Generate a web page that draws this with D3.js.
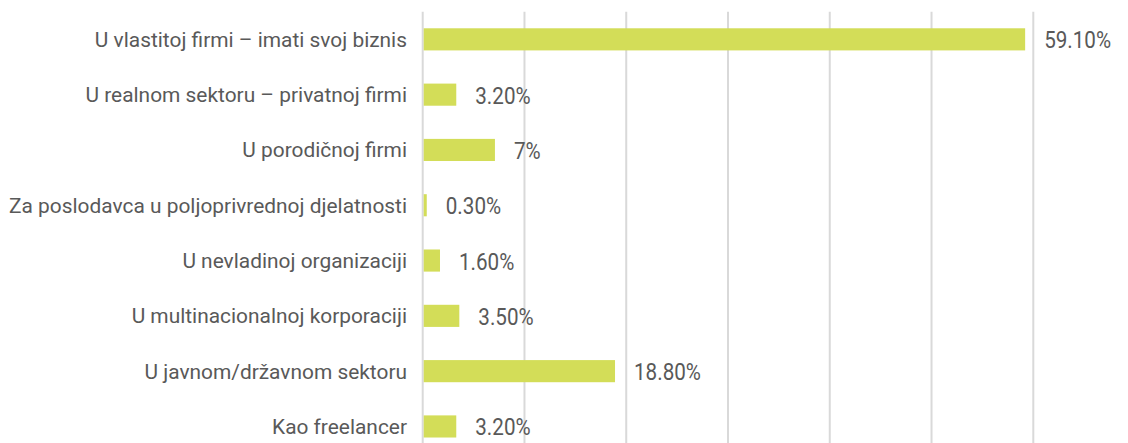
<!DOCTYPE html>
<html><head><meta charset="utf-8">
<script src="https://cdn.jsdelivr.net/npm/d3@7"></script>
<style>body{margin:0;background:#fff}svg{display:block}</style>
</head><body><svg id="c" width="1128" height="443"></svg>
<script>
const categories = ["U vlastitoj firmi – imati svoj biznis","U realnom sektoru – privatnoj firmi","U porodičnoj firmi","Za poslodavca u poljoprivrednoj djelatnosti","U nevladinoj organizaciji","U multinacionalnoj korporaciji","U javnom/državnom sektoru","Kao freelancer"];
const values = [59.1, 3.2, 7, 0.3, 1.6, 3.5, 18.8, 3.2];
const valueLabels = ["59.10%","3.20%","7%","0.30%","1.60%","3.50%","18.80%","3.20%"];
const gridTicks = [0,10,20,30,40,50,60];

const svg = d3.select("#c");
const x = d3.scaleLinear().domain([0,60]).range([422.7,1033.3]);
const y = d3.scaleBand().domain(categories).range([11.7,454.1]).paddingInner(0.6).paddingOuter(0.3);
const font = "Roboto, 'Liberation Sans', sans-serif";

svg.append("g").selectAll("line").data(gridTicks).join("line")
  .attr("x1",d=>x(d)).attr("x2",d=>x(d)).attr("y1",11.7).attr("y2",454.1)
  .attr("stroke","#d9d9d9").attr("stroke-width",2);

svg.append("g").selectAll("rect").data(values).join("rect")
  .attr("x",x(0)+1).attr("y",(d,i)=>y(categories[i]))
  .attr("width",d=>x(d)-x(0)).attr("height",y.bandwidth())
  .attr("fill","#d3dd58");

svg.append("g").selectAll("text").data(categories).join("text")
  .attr("transform",d=>`translate(407,${y(d)+y.bandwidth()/2+7.5}) scale(1.02,1)`)
  .attr("text-anchor","end").attr("font-family",font).attr("font-size",20.5)
  .attr("fill","#595959").text(d=>d);

svg.append("g").selectAll("text").data(values).join("text")
  .attr("transform",(d,i)=>`translate(${x(d)+20},${y(categories[i])+y.bandwidth()/2+9}) scale(0.86,1)`)
  .attr("font-family",font).attr("font-size",24)
  .attr("fill","#595959").text((d,i)=>valueLabels[i]);
</script></body></html>
